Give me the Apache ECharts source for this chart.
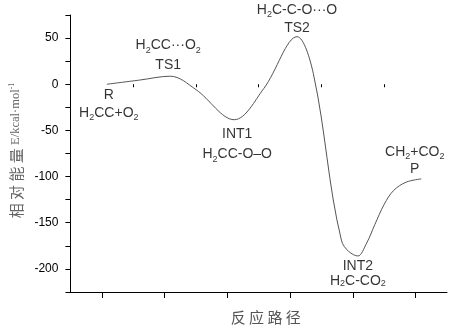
<!DOCTYPE html>
<html>
<head>
<meta charset="utf-8">
<script src="https://cdn.jsdelivr.net/npm/echarts@6/dist/echarts.min.js"></script>
<style>html,body{margin:0;padding:0;background:#fff}#c{width:452px;height:330px}</style>
</head>
<body>
<div id="c"></div>
<script>
// Stationary points on the reaction path
const stageNames = ['R', 'TS1', 'INT1', 'TS2', 'INT2', 'P'];
const speciesNames = ['H2CC+O2', 'H2CC···O2', 'H2CC-O–O', 'H2C-C-O···O', 'H2C-CO2', 'CH2+CO2'];
const stageX = [1.08, 2.09, 3.11, 4.11, 5.08, 6.09];
const stageE = [0, 8.7, -38.4, 51.5, -186, -102.5];

// Points
const pathX = [1.08, 1.6, 2.09, 2.5, 3.11, 3.58, 4.11, 4.37, 4.82, 5.08, 5.22, 5.35, 5.5, 5.65, 5.85, 6.09];
const pathE = [0, 4.5, 8.7, -5.8, -38.4, -4.7, 51.5, 11.6, -169.6, -186, -172, -152, -130, -115, -106, -102.5];

// Axis ticks
const majorTicks = [1, 2, 3, 4, 5, 6];
const minorTicks = [1.5, 2.5, 3.5, 4.5, 5.5];
const yLabelStep = 50;

// label layout (style only)
const labelLayout = {
  R:    { order: 'nameFirst', lh: 18, offset: [2, 20] },
  TS1:  { order: 'speciesFirst', lh: 20, offset: [-2, -21] },
  INT1: { order: 'nameFirst', lh: 20, offset: [3, 24] },
  TS2:  { order: 'speciesFirst', lh: 18, offset: [0, -17.5] },
  INT2: { order: 'nameFirst', lh: 15, offset: [0, 17.5] },
  P:    { order: 'speciesFirst', lh: 17, offset: [-6.5, -18] }
};

function subify(s) {
  return s.replace(/([A-Z])2/g, '$1{s|2}');
}

const chart = echarts.init(document.getElementById('c'), null, { renderer: 'canvas' });

const labelData = stageX.map((x, i) => {
  const name = stageNames[i];
  const lay = labelLayout[name];
  const sp = subify(speciesNames[i]);
  const text = lay.order === 'nameFirst' ? name + '\n' + sp : sp + '\n' + name;
  return {
    value: [x, stageE[i]],
    label: {
      show: true,
      position: 'inside',
      offset: lay.offset,
      formatter: text,
      lineHeight: lay.lh,
      rich: {
        s: { fontSize: 9, lineHeight: lay.lh - 10, verticalAlign: 'bottom', fontFamily: 'Liberation Sans', color: '#000' }
      }
    }
  };
});

const option = {
  animation: false,
  backgroundColor: '#fff',
  grid: { left: 67, right: 5, top: 15, bottom: 38, containLabel: false },
  xAxis: [
    {
      type: 'value', min: 0.5, max: 6.5,
      axisLine: { show: true, onZero: false, lineStyle: { color: '#000', width: 1 } },
      axisTick: { show: true, customValues: majorTicks, length: 6, lineStyle: { color: '#000' } },
      axisLabel: { show: false },
      splitLine: { show: false },
      name: '反 应 路 径',
      nameLocation: 'middle',
      nameGap: 18,
      nameTextStyle: { fontFamily: 'Noto Sans CJK SC', fontSize: 15, color: '#555', padding: [0, 0, 0, 14] }
    },
    {
      type: 'value', min: 0.5, max: 6.5, position: 'bottom',
      axisLine: { show: false },
      axisTick: { show: true, customValues: minorTicks, length: 3, lineStyle: { color: '#000' } },
      axisLabel: { show: false },
      splitLine: { show: false }
    }
  ],
  yAxis: {
    type: 'value', min: -225, max: 75, interval: 25,
    axisLine: { show: true, onZero: false, lineStyle: { color: '#000', width: 1 } },
    axisTick: { show: true, length: 5, lineStyle: { color: '#000' } },
    axisLabel: {
      margin: 12, color: '#000', fontSize: 12, fontFamily: 'Liberation Sans',
      formatter: v => (v % yLabelStep === 0 ? String(v) : '')
    },
    splitLine: { show: false },
    name: '{cn|相 对 能 量} {en|E/kcal·mol}{sup|-1}',
    nameLocation: 'middle',
    nameGap: 46,
    nameTextStyle: {
      padding: [0, 0, 0, 6],
      rich: {
        cn: { fontFamily: 'Noto Sans CJK SC', fontSize: 15, color: '#666', lineHeight: 16 },
        en: { fontFamily: 'Liberation Serif', fontSize: 12.5, color: '#666', lineHeight: 16 },
        sup: { fontFamily: 'Liberation Serif', fontSize: 8, color: '#666', lineHeight: 6, verticalAlign: 'top' }
      }
    }
  },
  series: [
    {
      type: 'line',
      xAxisIndex: 0,
      data: pathX.map((x, i) => [x, pathE[i]]),
      smooth: 0.35,
      symbol: 'none',
      lineStyle: { color: '#555', width: 1 },
      silent: true
    },
    {
      type: 'scatter',
      xAxisIndex: 0,
      symbolSize: 0,
      silent: true,
      data: labelData,
      label: { fontFamily: 'Liberation Sans', fontSize: 14, color: '#000' }
    }
  ]
};
chart.setOption(option);
</script>
</body>
</html>
